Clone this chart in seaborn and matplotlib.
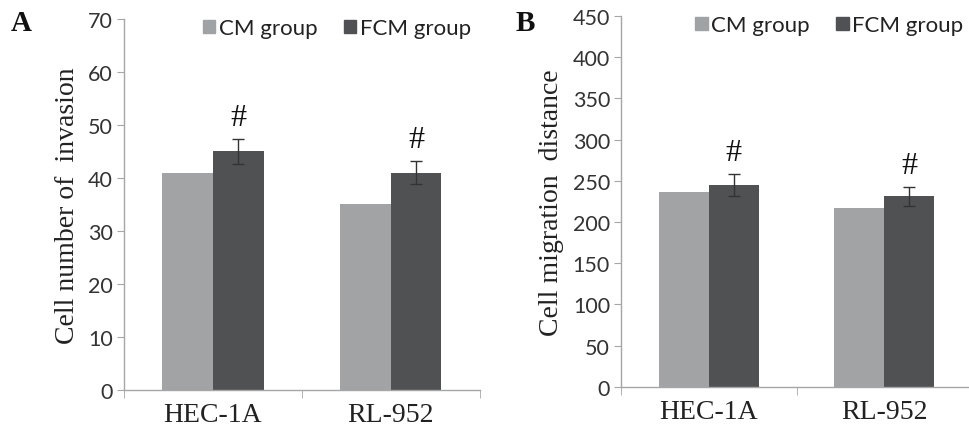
import matplotlib
matplotlib.use("Agg")
import matplotlib.pyplot as plt
import matplotlib.patches as mpatches
import numpy as np
import pandas as pd
import seaborn as sns

# data
cell_lines = ["HEC-1A", "RL-952"]
groups = ["CM group", "FCM group"]

invasion_cm = [41, 35]
invasion_fcm = [45, 41]
invasion_fcm_err = [2.3, 2.2]

migration_cm = [236, 217]
migration_fcm = [245, 231]
migration_fcm_err = [13, 12]

light = "#a0a3a6"
dark = "#4f5154"
axis_col = "#a6a6a6"
tick_col = "#333333"

sns.set_style("white")
plt.rcParams["font.family"] = ["Lato", "DejaVu Sans"]


def draw_panel(ax, cm, fcm, err, ymax, ystep, ylabel, letter, letter_x):
    df = pd.DataFrame({
        "line": cell_lines * 2,
        "group": [groups[0]] * 2 + [groups[1]] * 2,
        "value": list(cm) + list(fcm),
    })
    sns.barplot(data=df, x="line", y="value", hue="group", order=cell_lines,
                hue_order=groups, palette=[light, dark], width=0.57, gap=0,
                errorbar=None, ax=ax, legend=False, linewidth=0)
    # error bars + marks on the FCM bars
    fcm_bars = ax.containers[1]
    for bar, v, e in zip(fcm_bars, fcm, err):
        xc = bar.get_x() + bar.get_width() / 2
        ax.errorbar(xc, v, yerr=e, fmt="none", ecolor="#333333",
                    elinewidth=1, capsize=4, capthick=1)
        ax.annotate("#", (xc, v + e), xytext=(0, 5), textcoords="offset points",
                    ha="center", va="bottom", fontsize=23,
                    family="Liberation Serif", color="#111111")
    ax.set_xlim(-0.5, 1.5)
    ax.set_ylim(0, ymax)
    ax.set_yticks(np.arange(0, ymax + 1, ystep))
    ax.set_xticks([0, 1])
    ax.set_xticklabels(cell_lines, family="Liberation Serif", fontsize=20,
                       color="#222222")
    ax.set_xticks([-0.5, 0.5, 1.5], minor=True)
    ax.tick_params(axis="x", which="major", length=0, pad=9)
    ax.tick_params(axis="x", which="minor", length=6, color=axis_col,
                   direction="out", bottom=True)
    ax.tick_params(axis="y", length=5, color=axis_col, direction="out",
                   left=True, labelsize=15.5, labelcolor=tick_col, pad=3)
    ax.set_xlabel("")
    ax.set_ylabel(ylabel, family="Liberation Serif", fontsize=20,
                  color="#222222", labelpad=6)
    for s in ["top", "right"]:
        ax.spines[s].set_visible(False)
    for s in ["left", "bottom"]:
        ax.spines[s].set_color(axis_col)
        ax.spines[s].set_linewidth(1)
    handles = [mpatches.Patch(color=light, label=groups[0]),
               mpatches.Patch(color=dark, label=groups[1])]
    ax.legend(handles=handles, loc="upper right", bbox_to_anchor=(1.0, 1.025),
              ncol=2, frameon=False, fontsize=16, handlelength=0.55,
              handleheight=0.55, handletextpad=0.15, columnspacing=1.2,
              labelcolor="#222222", borderaxespad=0)
    ax.figure.text(letter_x, 0.945, letter, family="Liberation Serif",
                   fontweight="bold", fontsize=21, color="#111111",
                   ha="left", va="center")


fig = plt.figure(figsize=(9.69, 4.31), dpi=100)
ax1 = fig.add_axes([0.128, 0.093, 0.367, 0.861])
ax2 = fig.add_axes([0.641, 0.100, 0.362, 0.861])

draw_panel(ax1, invasion_cm, invasion_fcm, invasion_fcm_err, 70, 10,
           "Cell number of  invasion", "A", 0.011)
draw_panel(ax2, migration_cm, migration_fcm, migration_fcm_err, 450, 50,
           "Cell migration  distance", "B", 0.532)

fig.savefig("out.png", dpi=100, facecolor="white")
